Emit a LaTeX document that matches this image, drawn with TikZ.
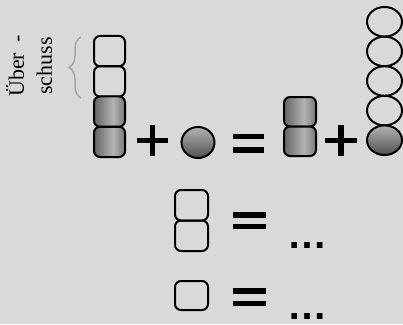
\documentclass[tikz,border=0pt]{standalone}
\usepackage{fontspec}
\setmainfont{Liberation Serif}
\newfontfamily\dotsfont{Liberation Sans}
\usetikzlibrary{shapes.geometric,decorations.pathreplacing}
\pgfdeclarehorizontalshading{unitshade}{100bp}{color(0bp)=(black!60); color(25bp)=(black!60); color(56bp)=(black!30); color(75bp)=(black!53); color(100bp)=(black!53)}
\tikzset{
  every picture/.style={line width=2pt},
  unit/.style={draw, rounded corners=6pt, minimum width=31pt, minimum height=30.25pt, inner sep=0pt, outer sep=0pt},
  fullunit/.style={unit, shading=unitshade},
  ball/.style={draw, ellipse, minimum width=35pt, minimum height=29.6pt, inner sep=0pt},
  fullball/.style={ball, top color=black!30, bottom color=black!68},
  sign/.style={line width=5.5pt},
  dots/.style={font=\dotsfont\bfseries\fontsize{40}{40}\selectfont, inner sep=0pt}
}

\begin{document}
\begin{tikzpicture}[x=1pt,y=-1pt]
    % Background
    \fill[black!15] (0,0) rectangle (403,324);
    \useasboundingbox (0,0) rectangle (403,324);

    % Left stack: two empty units (excess) on two filled ones
    \node[unit] (l1) at (109.5,51.1) {};
    \node[unit] (l2) at (109.5,81.4) {};
    \node[fullunit] (l3) at (109.5,111.6) {};
    \node[fullunit] (l4) at (109.5,141.9) {};
    \draw[black!35, line width=1.5pt, decorate, decoration={brace, amplitude=12pt}]
        (81,98) -- (81,37);
    \node[rotate=90, align=center, font=\fontsize{22}{28}\selectfont] (label) at (29,66) {Über\hspace{10pt}-\\schuss};

    % + ball =
    \draw[sign] (137,140.5) -- (168,140.5) (152.5,125) -- (152.5,156);
    \node[fullball, minimum width=33pt, minimum height=31pt] (b0) at (198,142.5) {};
    \draw[sign] (233,136.5) -- (264,136.5) (233,150) -- (264,150);

    % Right: two filled units + five balls
    \node[fullunit, minimum width=32pt, minimum height=29.5pt] (m1) at (300,111.75) {};
    \node[fullunit, minimum width=32pt, minimum height=29.5pt] (m2) at (300,141.25) {};
    \draw[sign] (325,140.5) -- (357,140.5) (341,125) -- (341,156);
    \foreach \i/\y in {1/21.8,2/51.4,3/81,4/110.6} {
        \node[ball] (r\i) at (384.5,\y) {};
    }
    \node[fullball] (r5) at (384.5,140.2) {};

    % Two units = ...
    \node[unit, minimum width=33pt, minimum height=30.5pt] (p1) at (191.5,205.25) {};
    \node[unit, minimum width=33pt, minimum height=30.5pt] (p2) at (191.5,235.75) {};
    \draw[sign] (233,215) -- (266,215) (233,226.5) -- (266,226.5);
    \node[dots] (d1) at (307.5,246) {…};

    % One unit = ...
    \node[unit, minimum width=33pt, minimum height=29pt] (s1) at (191.5,295.5) {};
    \draw[sign] (233,291) -- (266,291) (233,303.5) -- (266,303.5);
    \node[dots] (d2) at (307.5,317) {…};
\end{tikzpicture}
\end{document}
